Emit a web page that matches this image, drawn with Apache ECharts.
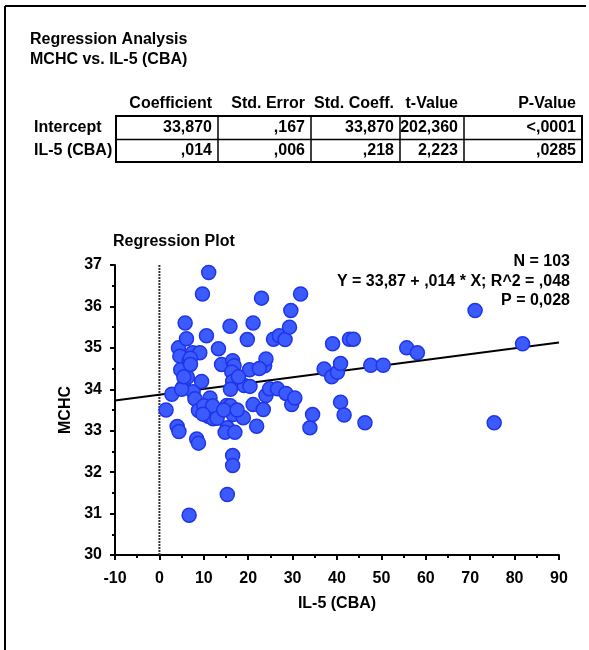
<!DOCTYPE html>
<html>
<head>
<meta charset="utf-8">
<script src="https://cdn.jsdelivr.net/npm/echarts@6/dist/echarts.min.js"></script>
<style>html,body{margin:0;padding:0;background:#fff}#c{width:589px;height:650px}</style>
</head>
<body>
<div id="c"></div>
<script>
// ---- data ----
var xValues = [1.5,2.8,4.0,4.4,4.3,4.6,4.8,5.4,5.8,6.1,6.3,6.7,7.5,7.6,8.0,9.1,9.5,8.4,8.8,6.7,9.7,8.8,7.0,5.0,
  11.1,10.6,11.4,10.5,11.0,12.1,12.5,13.3,13.6,14.0,15.2,15.3,14.8,15.9,16.5,16.8,16.3,16.5,16.6,17.0,16.5,16.5,15.3,18.9,19.1,19.8,16.0,10.0,
  20.3,21.1,21.1,21.9,23.0,23.4,23.7,24.0,24.0,24.8,26.6,25.7,27.0,28.3,28.5,29.3,29.6,29.8,30.5,31.8,33.9,34.5,20.4,
  37.1,38.8,39.0,40.1,40.8,40.8,41.6,42.8,43.7,46.3,47.6,50.4,55.7,58.1,71.1,75.4,81.8,
  5.5,7.0,12.0,13.0,14.5,17.5,9.8,17.8,22.5,16.0];
var yValues = [33.5,33.88,33.1,32.98,35.0,34.8,34.47,34.07,35.6,35.22,34.29,34.69,34.88,33.94,33.77,34.88,34.19,32.8,32.7,30.96,36.3,33.49,34.75,34.0,
  36.82,35.29,33.79,33.49,33.35,33.29,33.5,34.98,33.47,34.6,33.61,33.07,32.96,35.52,34.69,34.57,34.42,34.19,33.39,32.96,32.4,32.16,31.46,33.31,34.09,35.2,33.6,33.6,
  34.47,35.6,33.63,33.11,36.2,33.51,34.57,34.73,33.85,34.01,34.01,35.21,35.29,35.2,33.9,35.5,35.9,33.63,33.79,36.3,33.07,33.39,34.07,
  34.49,34.3,35.1,34.41,34.62,33.69,33.38,35.21,35.21,33.19,34.58,34.58,35.0,34.88,35.9,33.19,35.1,
  34.3,34.6,33.6,33.3,33.5,33.5,33.4,34.3,34.5,34.0];
var intercept = 33.87, slope = 0.014;
var xTicks = [-10,90,10];   // min, max, interval
var yTicks = [30,37,1];
var titleLines = ["Regression Analysis", "MCHC vs. IL-5 (CBA)"];
var plotTitle = "Regression Plot";
var statLines = ["N = 103", "Y = 33,87 + ,014 * X; R^2 = ,048", "P = 0,028"];
var tableHeaders = ["Coefficient","Std. Error","Std. Coeff.","t-Value","P-Value"];
var rowLabels = ["Intercept","IL-5 (CBA)"];
var tableRows = [["33,870",",167","33,870","202,360","<,0001"],[",014",",006",",218","2,223",",0285"]];
var xName = "IL-5 (CBA)", yName = "MCHC";

// ---- build ----
var pts = xValues.map(function(x,i){return [x,yValues[i]];});
var linePts = [[xTicks[0], intercept + slope*xTicks[0]], [xTicks[1], intercept + slope*xTicks[1]]];
var FONT = "'Liberation Sans', Arial, sans-serif";
var F16 = 'bold 16px ' + FONT;

var colX = [116,218,311,400,464,582];
var tTop = 116, tMid = 139.5, tBot = 162;
var g = [];
// frame
g.push({type:'line',shape:{x1:5,y1:6,x2:5,y2:650},style:{stroke:'#000',lineWidth:2}});
g.push({type:'line',shape:{x1:5,y1:6,x2:586,y2:6},style:{stroke:'#000',lineWidth:2}});
g.push({type:'text',x:30,y:40,style:{text:titleLines[0],font:F16,fill:'#000',verticalAlign:'middle'}});
g.push({type:'text',x:30,y:60,style:{text:titleLines[1],font:F16,fill:'#000',verticalAlign:'middle'}});
// table
for (var c=0;c<5;c++){
  g.push({type:'text',x:colX[c+1]-6,y:104,style:{text:tableHeaders[c],font:F16,fill:'#000',align:'right',verticalAlign:'middle'}});
}
g.push({type:'rect',shape:{x:colX[0],y:tTop,width:colX[5]-colX[0],height:tBot-tTop},style:{fill:null,stroke:'#000',lineWidth:2}});
g.push({type:'line',shape:{x1:colX[0],y1:tMid,x2:colX[5],y2:tMid},style:{stroke:'#000',lineWidth:1.5}});
for (var c=1;c<5;c++){
  g.push({type:'line',shape:{x1:colX[c],y1:tTop,x2:colX[c],y2:tBot},style:{stroke:'#000',lineWidth:1.5}});
}
for (var r=0;r<2;r++){
  var cy = r===0 ? (tTop+tMid)/2 : (tMid+tBot)/2;
  g.push({type:'text',x:34,y:cy,style:{text:rowLabels[r],font:F16,fill:'#000',verticalAlign:'middle'}});
  for (var c=0;c<5;c++){
    g.push({type:'text',x:colX[c+1]-6,y:cy,style:{text:tableRows[r][c],font:F16,fill:'#000',align:'right',verticalAlign:'middle'}});
  }
}
g.push({type:'text',x:113,y:242,style:{text:plotTitle,font:F16,fill:'#000',verticalAlign:'middle'}});
var sy = [262,282,301];
for (var i=0;i<3;i++){
  g.push({type:'text',x:570,y:sy[i],style:{text:statLines[i],font:F16,fill:'#000',align:'right',verticalAlign:'middle'}});
}

var chart = echarts.init(document.getElementById('c'), null, {renderer:'canvas'});
chart.setOption({
  backgroundColor:'#fff',
  animation:false,
  grid:{left:115,right:30,top:265,bottom:95},
  xAxis:{type:'value',min:xTicks[0],max:xTicks[1],interval:xTicks[2],
    name:xName,nameLocation:'middle',nameGap:41,
    nameTextStyle:{fontFamily:FONT,fontSize:16,fontWeight:'bold',color:'#000'},
    axisLine:{onZero:false,lineStyle:{color:'#000',width:2}},
    axisTick:{length:5,lineStyle:{color:'#000',width:2}},
    minorTick:{show:true,splitNumber:2,length:3,lineStyle:{color:'#000',width:2}},
    axisLabel:{fontFamily:FONT,fontSize:16,fontWeight:'bold',color:'#000',margin:16},
    splitLine:{show:false}},
  yAxis:{type:'value',min:yTicks[0],max:yTicks[1],interval:yTicks[2],
    name:yName,nameLocation:'middle',nameGap:33,nameRotate:90,
    nameTextStyle:{fontFamily:FONT,fontSize:16,fontWeight:'bold',color:'#000'},
    axisLine:{show:true,onZero:false,lineStyle:{color:'#000',width:2}},
    axisTick:{show:true,length:5,lineStyle:{color:'#000',width:2}},
    minorTick:{show:true,splitNumber:2,length:3,lineStyle:{color:'#000',width:2}},
    axisLabel:{fontFamily:FONT,fontSize:16,fontWeight:'bold',color:'#000',margin:13},
    splitLine:{show:false}},
  series:[
    {type:'line',data:[[0,yTicks[0]],[0,yTicks[1]]],symbol:'none',silent:true,
      lineStyle:{color:'#333',width:2,type:[2,1]},z:1},
    {type:'line',data:linePts,symbol:'none',silent:true,lineStyle:{color:'#000',width:2},z:2},
    {type:'scatter',data:pts,symbol:'circle',symbolSize:14,z:3,
      itemStyle:{color:'#3b5bff',borderColor:'#1f35e8',borderWidth:1.5,opacity:1}}
  ],
  graphic:g
});
</script>
</body>
</html>
